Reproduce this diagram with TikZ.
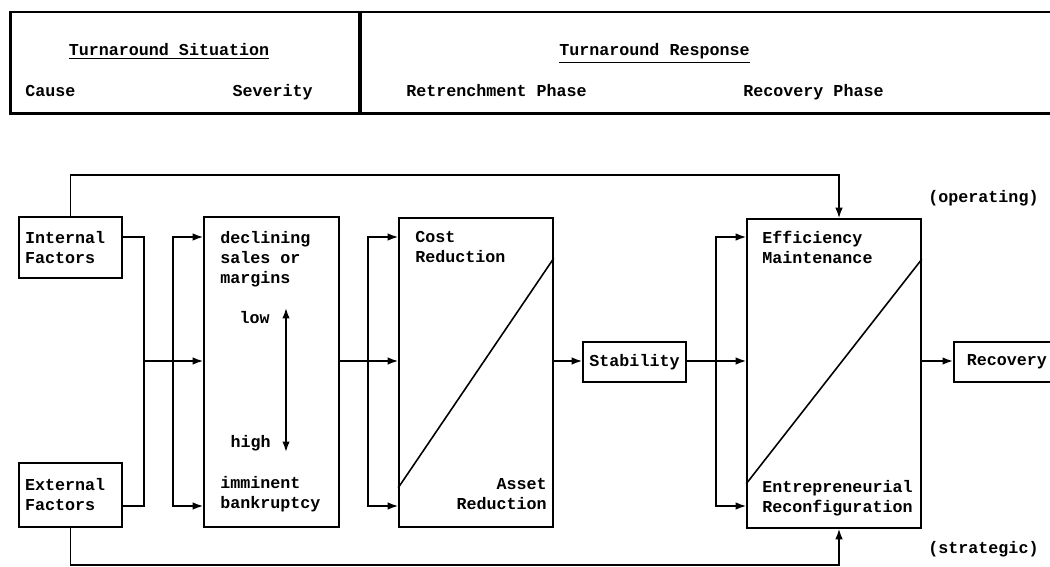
\documentclass[tikz,border=0pt]{standalone}
\usepackage{fontspec}
\setmonofont{Liberation Mono}
\usetikzlibrary{arrows.meta,calc}

\begin{document}
\begin{tikzpicture}[
        x=0.02cm, y=-0.02cm,
        every node/.style={font=\ttfamily\bfseries\fontsize{9.5pt}{11.4pt}\selectfont},
        frame/.style={rectangle, draw, line width=1.7pt, inner sep=0pt},
        box/.style={rectangle, draw, line width=0.9pt, inner sep=0pt},
        txt/.style={inner sep=0pt, align=left},
        line/.style={line width=0.9pt},
        arrow/.style={-{Latex[length=2.1mm,width=1.5mm]}, line width=0.9pt},
        dblarrow/.style={{Latex[length=2.1mm,width=1.5mm]}-{Latex[length=2.1mm,width=1.5mm]}, line width=0.9pt}
    ]
        \useasboundingbox (0,0) rectangle (1050,567);

        % Header table
        \node[frame, minimum width=7cm, minimum height=2.04cm] (sitbox) at (185,63) {};
        \node[frame, minimum width=14.2cm, minimum height=2.04cm] (respbox) at (715,63) {};
        \node[txt, anchor=base] (sittitle) at (169,56) {\underline{Turnaround Situation}};
        \node[txt, anchor=base west] (cause) at (25,97) {Cause};
        \node[txt, anchor=base east] (severity) at (313,97) {Severity};
        \node[txt, anchor=base east] (resptitle) at (750,56) {\underline{Turnaround Response}};
        \node[txt, anchor=base west] (retrench) at (406,97) {Retrenchment Phase};
        \node[txt, anchor=base west] (recphase) at (743,97) {Recovery Phase};

        % Rows of the flow
        \coordinate (rtop) at (0,237);
        \coordinate (rmid) at (0,361);
        \coordinate (rbot) at (0,506);

        % Causes
        \node[box, minimum width=2.06cm, minimum height=1.22cm, text width=1.82cm, inner xsep=0.12cm, align=left] (intl) at (70.5,247.5) {Internal\\Factors};
        \node[box, minimum width=2.06cm, minimum height=1.28cm, text width=1.82cm, inner xsep=0.12cm, align=left] (extl) at (70.5,495) {External\\Factors};

        % Severity
        \node[box, minimum width=2.7cm, minimum height=6.2cm] (sev) at (271.5,372) {};
        \node[txt, anchor=north west] (decl) at (220,231) {declining\\sales or\\margins};
        \node[txt, anchor=base east] (low) at (270,323) {low};
        \node[txt, anchor=base east] (high) at (271,447) {high};
        \node[txt, anchor=north west] (immi) at (220,476) {imminent\\bankruptcy};
        \coordinate (lowtip) at (286,308);
        \coordinate (hightip) at (286,452);
        \draw[dblarrow] (lowtip) -- (hightip);

        % Retrenchment
        \node[box, minimum width=3.08cm, minimum height=6.18cm] (cost) at (476,372.5) {};
        \draw[line] ($(cost.south west)+(0,-40)$) -- ($(cost.north east)+(0,41)$);
        \node[txt, anchor=north west] (costred) at (415,231) {Cost\\Reduction};
        \node[txt, anchor=north east, align=right] (assetred) at (547,478) {Asset\\Reduction};
        \node[box, minimum width=2.06cm, minimum height=0.8cm] (stab) at (634.5,362) {Stability};

        % Recovery
        \node[box, minimum width=3.48cm, minimum height=6.18cm] (eff) at (834,373.5) {};
        \draw[line] ($(eff.south west)+(0,-45)$) -- ($(eff.north east)+(0,41)$);
        \node[txt, anchor=north west] (effmaint) at (762,231) {Efficiency\\Maintenance};
        \node[txt, anchor=north west] (entre) at (762,480) {Entrepreneurial\\Reconfiguration};
        \node[box, anchor=west, minimum height=0.8cm, text width=2.1cm, inner xsep=0.26cm, align=left] (reco) at (953,362) {Recovery};
        \node[txt, anchor=base west] (oper) at (928,203) {(operating)};
        \node[txt, anchor=base west] (strat) at (928,553) {(strategic)};

        % Junctions
        \coordinate (j1) at (144,361);
        \coordinate (s1) at (173,361);
        \coordinate (s2) at (368,361);
        \coordinate (s3) at (716,361);
        \coordinate (opx) at (839,175);
        \coordinate (stx) at (839,565);

        % Arrows
        \draw[line] (intl.east |- rtop) -| (j1);
        \draw[line] (extl.east |- rbot) -| (j1);
        \draw[arrow] (j1) -- (sev.west |- rmid);
        \draw[arrow] (s1) |- (sev.west |- rtop);
        \draw[arrow] (s1) |- (sev.west |- rbot);
        \draw[arrow] (sev.east |- rmid) -- (cost.west |- rmid);
        \draw[arrow] (s2) |- (cost.west |- rtop);
        \draw[arrow] (s2) |- (cost.west |- rbot);
        \draw[arrow] (cost.east |- rmid) -- (stab.west |- rmid);
        \draw[arrow] (stab.east |- rmid) -- (eff.west |- rmid);
        \draw[arrow] (s3) |- (eff.west |- rtop);
        \draw[arrow] (s3) |- (eff.west |- rbot);
        \draw[arrow] (eff.east |- rmid) -- (reco.west |- rmid);
        \draw[arrow] (intl.north) |- (opx) -- (opx |- eff.north);
        \draw[arrow] (extl.south) |- (stx) -- (stx |- eff.south);

    \end{tikzpicture}
\end{document}
